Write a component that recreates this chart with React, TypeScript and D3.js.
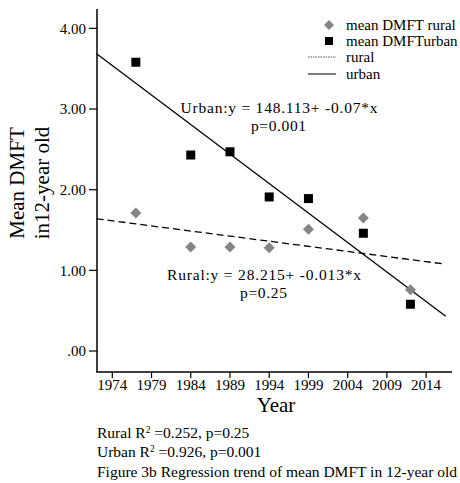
import React from "react";
import * as d3 from "d3";

const years = [1977, 1984, 1989, 1994, 1999, 2006, 2012];
const ruralMean = [1.71, 1.29, 1.29, 1.28, 1.51, 1.65, 0.76];
const urbanMean = [3.58, 2.43, 2.47, 1.91, 1.89, 1.46, 0.58];
const yTicks = [0, 1, 2, 3, 4];
const yTickLabels = [".00", "1.00", "2.00", "3.00", "4.00"];
const xTicks = [1974, 1979, 1984, 1989, 1994, 1999, 2004, 2009, 2014];
const fitRange = [1972, 2016.5];
const legendItems = ["mean DMFT rural", "mean DMFTurban", "rural", "urban"];
const urbanEq = "Urban:y = 148.113+ -0.07*x";
const urbanP = "p=0.001";
const ruralEq = "Rural:y = 28.215+ -0.013*x";
const ruralP = "p=0.25";

function fit(xs: number[], ys: number[]) {
  const mx = d3.mean(xs)!;
  const my = d3.mean(ys)!;
  let sxy = 0, sxx = 0;
  xs.forEach((x, i) => {
    sxy += (x - mx) * (ys[i] - my);
    sxx += (x - mx) * (x - mx);
  });
  const b = sxy / sxx;
  return (x: number) => my + b * (x - mx);
}

export default function App() {
  const W = 460, H = 483;
  const x = d3.scaleLinear().domain([1972.05, 2017.3]).range([97, 452]);
  const y = d3.scaleLinear().domain([-0.26, 4.24]).range([372, 9]);
  const font = "'Liberation Serif', 'Times New Roman', serif";
  const gray = "#858585";
  const urbanFit = fit(years, urbanMean);
  const ruralFit = fit(years, ruralMean);
  const urbanPath = d3.line<number>().x((d) => x(d)).y((d) => y(urbanFit(d)))(fitRange);
  const ruralPath = d3.line<number>().x((d) => x(d)).y((d) => y(ruralFit(d)))(fitRange);
  const diamond = (cx: number, cy: number, r: number) =>
    `M${cx},${cy - r}L${cx + r},${cy}L${cx},${cy + r}L${cx - r},${cy}Z`;
  return (
    <svg width={W} height={H} style={{ position: "absolute", left: 0, top: 0, background: "#fff" }} fontFamily={font}>
      <rect width={W} height={H} fill="#fff" />
      {/* axes */}
      <line x1={97} y1={9} x2={97} y2={372} stroke="#000" strokeWidth={1.5} />
      <line x1={96.25} y1={372} x2={452} y2={372} stroke="#000" strokeWidth={1.5} />
      {yTicks.map((t, i) => (
        <g key={t}>
          <line x1={89} x2={97} y1={y(t)} y2={y(t)} stroke="#000" strokeWidth={1.2} />
          <text x={86} y={y(t)} dy="0.35em" textAnchor="end" fontSize={15}>{yTickLabels[i]}</text>
        </g>
      ))}
      {xTicks.map((t) => (
        <g key={t}>
          <line x1={x(t)} x2={x(t)} y1={372} y2={378} stroke="#000" strokeWidth={1.2} />
          <text x={x(t)} y={390} textAnchor="middle" fontSize={15}>{t}</text>
        </g>
      ))}
      <text x={276} y={412} textAnchor="middle" fontSize={21}>Year</text>
      <text transform="translate(24,183) rotate(-90)" textAnchor="middle" fontSize={21}>Mean DMFT</text>
      <text transform="translate(49,183) rotate(-90)" textAnchor="middle" fontSize={21}>in12-year old</text>

      {/* fit lines */}
      <path d={ruralPath!} stroke="#000" strokeWidth={1.3} fill="none" strokeDasharray="7,4" />
      <path d={urbanPath!} stroke="#000" strokeWidth={1.3} fill="none" />

      {/* points */}
      {years.map((yr, i) => (
        <path key={"r" + yr} d={diamond(x(yr), y(ruralMean[i]), 5.5)} fill={gray} />
      ))}
      {years.map((yr, i) => (
        <rect key={"u" + yr} x={x(yr) - 4.5} y={y(urbanMean[i]) - 4.5} width={9} height={9} fill="#000" />
      ))}

      {/* annotations */}
      <text x={180.5} y={113} fontSize={15.5} textLength={197} lengthAdjust="spacing">{urbanEq}</text>
      <text x={278.5} y={131} fontSize={15.5} textLength={55} lengthAdjust="spacing" textAnchor="middle">{urbanP}</text>
      <text x={167} y={280} fontSize={15.5} textLength={194} lengthAdjust="spacing">{ruralEq}</text>
      <text x={263.5} y={298} fontSize={15.5} textLength={47} lengthAdjust="spacing" textAnchor="middle">{ruralP}</text>

      {/* legend */}
      <path d={diamond(329, 25, 5)} fill={gray} />
      <rect x={325} y={37} width={8} height={8} fill="#000" />
      <line x1={308} x2={336} y1={57} y2={57} stroke="#555" strokeWidth={1} strokeDasharray="1.5,1" />
      <line x1={308} x2={336} y1={74} y2={74} stroke="#000" strokeWidth={1} />
      {legendItems.map((t, i) => (
        <text key={t} x={346} y={[25, 41, 57, 74][i]} dy="0.35em" fontSize={15}>{t}</text>
      ))}

      {/* footnotes */}
      <text x={97} y={438} fontSize={15.5}>Rural R<tspan dy={-5} fontSize={9.5}>2</tspan><tspan dy={5}> =0.252, p=0.25</tspan></text>
      <text x={97} y={457} fontSize={15.5}>Urban R<tspan dy={-5} fontSize={9.5}>2</tspan><tspan dy={5}> =0.926, p=0.001</tspan></text>
      <text x={97} y={477} fontSize={15.5}>Figure 3b Regression trend of mean DMFT in 12-year old</text>
    </svg>
  );
}
